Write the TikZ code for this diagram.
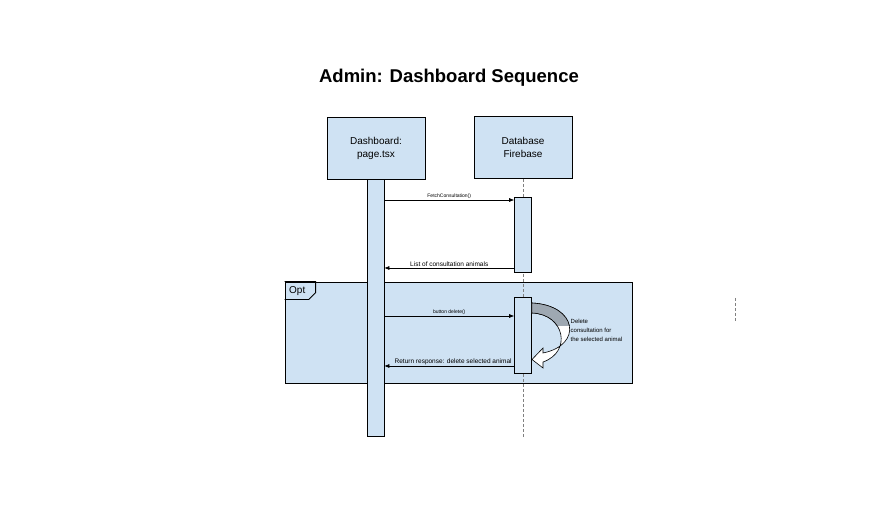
\documentclass[tikz,border=0pt]{standalone}
\usepackage{fontspec}
\setmainfont{Liberation Sans}
\usetikzlibrary{arrows.meta}
\definecolor{boxblue}{HTML}{CFE2F3}
\definecolor{shadegray}{RGB}{158,168,178}
\begin{document}
\begin{tikzpicture}[x=1pt,y=-1pt]
 \tikzset{head/.style={draw, thick, fill=boxblue, minimum width=98pt, minimum height=62pt, align=center, font=\fontsize{10}{13}\selectfont}}
 \tikzset{act/.style={draw, semithick, fill=boxblue, minimum width=17pt, inner sep=0pt}}
 \tikzset{msg/.style={semithick, -{Latex[length=5pt,width=4pt]}}}
 \tikzset{lbl/.style={font=\fontsize{6.5}{7.5}\selectfont, inner sep=1pt}}
 \tikzset{life/.style={gray, densely dashed, line width=0.8pt}}
  \useasboundingbox (0,0) rectangle (887,521);
  \node[font=\bfseries\fontsize{18.5}{22}\selectfont] (T) at (449,78) {Admin: Dashboard Sequence};
  \node[head] (D) at (376,148) {Dashboard:\\page.tsx};
  \node[head] (F) at (523,147.5) {Database\\Firebase};
  % opt frame
  \node[draw, thick, fill=boxblue, minimum width=347pt, minimum height=101pt, inner sep=0pt] (O) at (458.5,332.5) {};
  \draw[thick] (O.north west) -- ++(31,0) -- ++(0,11) -- ++(-7,7) -- ++(-24,0);
  \node[font=\fontsize{10}{12}\selectfont, anchor=west, inner sep=0pt] (OL) at (289,291.5) {Opt};
  % lifelines
  \coordinate (Fend) at (523,437);
  \draw[life] (F) -- (Fend);
  \coordinate (S1) at (735,298);
  \coordinate (S2) at (735,322);
  \draw[life] (S1) -- (S2);
  % activations
  \node[act, minimum height=257pt] (DA) at (375.5,307.5) {};
  \node[act, minimum height=75pt] (FA1) at (523,234.5) {};
  \node[act, minimum height=76pt] (FA2) at (523,335) {};
  % messages
  \draw[msg] (DA.east |- 0,200) -- node[lbl, above, font=\fontsize{5}{6}\selectfont] {FetchConsultation()} (FA1.west |- 0,200);
  \draw[msg] (FA1.west |- 0,268) -- node[lbl, above] {List of consultation animals} (DA.east |- 0,268);
  \draw[msg] (DA.east |- 0,316) -- node[lbl, above, font=\fontsize{5}{6}\selectfont] {button delete()} (FA2.west |- 0,316);
  \draw[msg] (FA2.west |- 0,366) -- node[lbl, above, pos=0.47] {Return response: delete selected animal} (DA.east |- 0,366);
  % self call arrow
  \draw[semithick, fill=white] (FA2.east |- 0,303) .. controls (577,305) and (583,345) .. (543,353) -- (543,348) -- (532,359.5) -- (543,368) -- (543,362) .. controls (572,352) and (565,314) .. (FA2.east |- 0,313) -- cycle;
  \begin{scope}
   \clip (532,300) rectangle (575,326);
   \draw[semithick, fill=shadegray] (FA2.east |- 0,303) .. controls (577,305) and (583,345) .. (543,353) -- (543,348) -- (532,359.5) -- (543,368) -- (543,362) .. controls (572,352) and (565,314) .. (FA2.east |- 0,313) -- cycle;
  \end{scope}
  \node[lbl, anchor=north west, align=left, font=\fontsize{6}{9}\selectfont] (N) at (569.5,318) {Delete\\consultation for\\the selected animal};
\end{tikzpicture}
\end{document}
